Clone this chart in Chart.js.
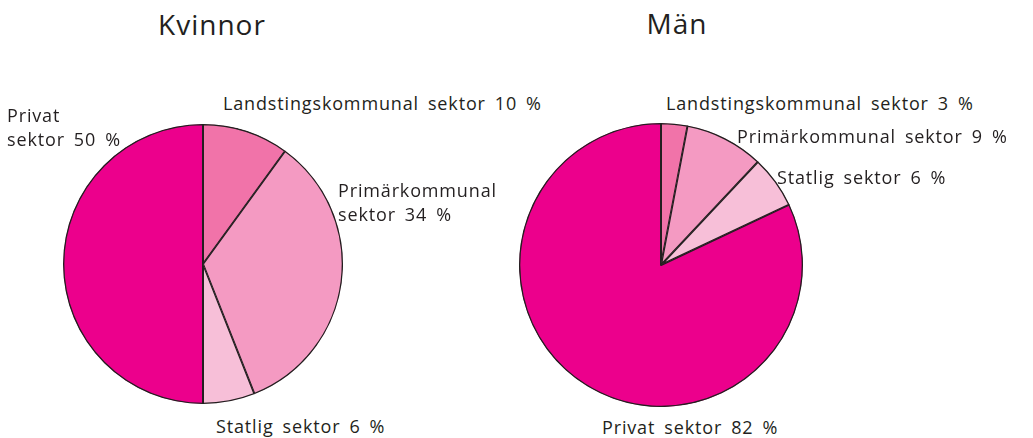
<!DOCTYPE html>
<html>
<head>
<meta charset="utf-8">
<script src="https://cdn.jsdelivr.net/npm/chart.js@4"></script>
<style>
  body { margin: 0; background: #fff; }
  #wrap { position: relative; width: 1033px; height: 438px; overflow: hidden;
          font-family: "Open Sans", "Noto Sans", sans-serif; color: #231f20; }
  .box { position: absolute; }
  .title { position: absolute; font-size: 28px; letter-spacing: 1px; transform: translate(-50%, -50%); white-space: nowrap; }
  .lbl { position: absolute; font-size: 18px; line-height: 24px; letter-spacing: 0.85px; word-spacing: 3.5px;
         transform: translateY(-12px); white-space: nowrap; }
</style>
</head>
<body>
<div id="wrap">
  <div class="box" style="left:63px; top:124px; width:280px; height:280px;"><canvas id="kvinnor"></canvas></div>
  <div class="box" style="left:519px; top:123px; width:284px; height:284px;"><canvas id="man"></canvas></div>
</div>
<script>
// Data
const categories = ["Landstingskommunal sektor", "Primärkommunal sektor", "Statlig sektor", "Privat sektor"];
const kvinnorValues = [10, 34, 6, 50];
const manValues = [3, 9, 6, 82];
const titles = ["Kvinnor", "Män"];

const colors = ["#f173a9", "#f49ac2", "#f7bfd8", "#ec008c"];

function makePie(id, values) {
    new Chart(document.getElementById(id), {
        type: 'pie',
        data: {
            labels: categories,
            datasets: [{
                data: values,
                backgroundColor: colors,
                borderColor: '#231f20',
                borderWidth: 1,
                borderAlign: 'inner'
            }]
        },
        options: {
            responsive: true,
            maintainAspectRatio: true,
            aspectRatio: 1,
            animation: false,
            layout: { padding: 0 },
            plugins: {
                legend: { display: false },
                tooltip: { enabled: false }
            }
        }
    });
}

makePie("kvinnor", kvinnorValues);
makePie("man", manValues);

// Titles and slice labels as text
const wrap = document.getElementById("wrap");
function addText(cls, html, x, y) {
    const d = document.createElement("div");
    d.className = cls;
    d.innerHTML = html;
    d.style.left = x + "px";
    d.style.top = y + "px";
    wrap.appendChild(d);
}
addText("title", titles[0], 212, 24);
addText("title", titles[1], 677, 23);

const pct = v => v + "&nbsp;%";
// Kvinnor
addText("lbl", "Privat<br>sektor " + pct(kvinnorValues[3]), 7, 115);
addText("lbl", categories[0] + " " + pct(kvinnorValues[0]), 223, 103);
addText("lbl", "Primärkommunal<br>sektor " + pct(kvinnorValues[1]), 338, 190);
addText("lbl", categories[2] + " " + pct(kvinnorValues[2]), 216, 426);
// Män
addText("lbl", categories[0] + " " + pct(manValues[0]), 666, 103);
addText("lbl", categories[1] + " " + pct(manValues[1]), 737, 136);
addText("lbl", categories[2] + " " + pct(manValues[2]), 777, 177);
addText("lbl", categories[3] + " " + pct(manValues[3]), 602, 427);
</script>
</body>
</html>
